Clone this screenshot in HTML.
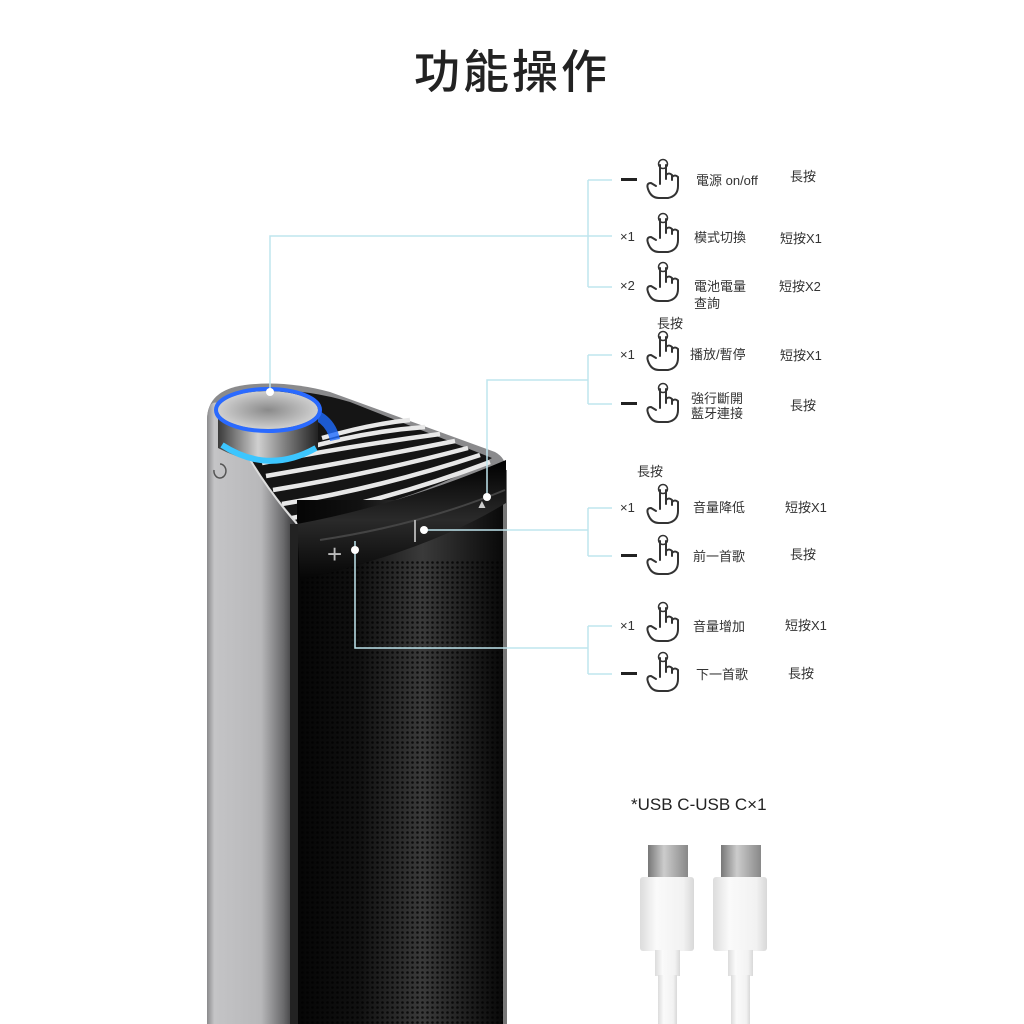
<!DOCTYPE html>
<html><head><meta charset="utf-8"><style>
html,body{margin:0;padding:0;background:#fff;}
svg{display:block}
text{font-family:"Liberation Sans","Noto Sans CJK TC",sans-serif;fill:#333;}
</style></head><body>
<svg width="1024" height="1024" viewBox="0 0 1024 1024" xmlns="http://www.w3.org/2000/svg">
<defs>
<linearGradient id="side" x1="0" x2="1" y1="0" y2="0">
<stop offset="0" stop-color="#8a8a8c"/><stop offset="0.08" stop-color="#c4c4c6"/><stop offset="0.6" stop-color="#b8b8ba"/><stop offset="0.85" stop-color="#6a6a6c"/><stop offset="1" stop-color="#2a2a2c"/></linearGradient>
<linearGradient id="grill" x1="0" x2="1" y1="0" y2="0">
<stop offset="0" stop-color="#050505"/><stop offset="0.3" stop-color="#111"/><stop offset="0.6" stop-color="#3a3a3a"/><stop offset="0.85" stop-color="#1a1a1a"/><stop offset="1" stop-color="#070707"/></linearGradient>
<pattern id="mesh" width="5" height="5" patternUnits="userSpaceOnUse"><circle cx="2.5" cy="2.5" r="1.3" fill="#000" opacity="0.75"/></pattern>
<linearGradient id="knob" x1="0" x2="1"><stop offset="0" stop-color="#3a3a3a"/><stop offset="0.4" stop-color="#d0d0d0"/><stop offset="0.7" stop-color="#777"/><stop offset="1" stop-color="#222"/></linearGradient>
<radialGradient id="ktop"><stop offset="0" stop-color="#8a8a8a"/><stop offset="1" stop-color="#cfcfcf"/></radialGradient>
<linearGradient id="band" x1="0" x2="0" y1="0" y2="1"><stop offset="0" stop-color="#000"/><stop offset="0.5" stop-color="#2a2a2a"/><stop offset="1" stop-color="#050505"/></linearGradient>
<linearGradient id="white" x1="0" x2="1"><stop offset="0" stop-color="#dcdcdc"/><stop offset="0.3" stop-color="#fafafa"/><stop offset="0.8" stop-color="#f2f2f2"/><stop offset="1" stop-color="#d8d8d8"/></linearGradient>
<linearGradient id="metal" x1="0" x2="1"><stop offset="0" stop-color="#777"/><stop offset="0.4" stop-color="#ccc"/><stop offset="1" stop-color="#888"/></linearGradient>
<g id="hand" fill="none" stroke="#333" stroke-width="2" stroke-linecap="round" stroke-linejoin="round">
<circle cx="0" cy="-16" r="4.5" stroke-width="1.5"/>
<path d="M-3,-15 V4 M3,-15 V-1 M3,-5 q3,-3 6,0 V0 M9,-3 q3,-3 6,0 V6 q0,10 -10,12 H-4 q-8,0 -11,-9 q-2,-6 3,-6 l5,3"/>
</g>
</defs>

<text x="512" y="88" text-anchor="middle" font-size="46" font-weight="500" style="fill:#222;letter-spacing:3px">功能操作</text>

<!-- speaker silhouette -->
<path d="M207,1024 V420 Q207,390 245,385 Q285,380 330,392 L495,452 Q506,458 506,470 V1024Z" fill="#8a8a8c"/>
<path d="M222,405 Q235,392 270,390 Q310,390 350,402 L492,458 Q420,500 300,525 Q250,470 222,405Z" fill="#151515"/>
<!-- ribs -->
<g fill="none" stroke="#e8e8e8" stroke-width="4.5">
<path d="M292,518 Q390,500 490,462"/>
<path d="M282,504 Q380,488 480,455"/>
<path d="M273,490 Q370,474 468,448"/>
<path d="M266,476 Q360,460 455,441"/>
<path d="M262,463 Q350,446 440,434"/>
<path d="M300,450 Q360,432 425,427"/>
<path d="M322,438 Q370,424 410,420"/>
</g>
<!-- grille -->
<rect x="297" y="500" width="209" height="524" fill="url(#grill)"/>
<rect x="300" y="560" width="203" height="464" fill="url(#mesh)"/>
<rect x="503" y="470" width="4" height="554" fill="#777"/>
<!-- band -->
<path d="M297,524 Q400,505 506,460 V503 Q430,550 300,580 Z" fill="url(#band)"/>
<path d="M320,540 Q420,525 505,490" fill="none" stroke="#444" stroke-width="2"/>
<!-- silver side -->
<path d="M207,1024 V420 Q208,396 222,405 Q250,470 297,524 V1024Z" fill="url(#side)"/>
<path d="M222,405 Q250,470 297,524" fill="none" stroke="#ddd" stroke-width="2"/>
<rect x="290" y="524" width="8" height="500" fill="#222"/>
<!-- knob -->
<path d="M300,410 Q330,415 335,440" fill="none" stroke="#1e6bff" stroke-width="10" opacity="0.8"/>
<path d="M218,412 L218,448 Q268,475 318,448 L318,412Z" fill="url(#knob)"/>
<path d="M222,445 Q268,475 316,448" fill="none" stroke="#3cc6ff" stroke-width="6"/>
<ellipse cx="268" cy="410" rx="50" ry="19" fill="url(#ktop)"/>
<ellipse cx="268" cy="410" rx="52" ry="21" fill="none" stroke="#2a6aff" stroke-width="4"/>
<!-- panel icons -->
<text x="327" y="563" font-size="26" style="fill:#bbb">+</text>
<rect x="414" y="520" width="2" height="22" fill="#aaa"/>
<text x="476" y="508" font-size="12" style="fill:#ccc">▲</text>
<path d="M214,470 a6,7 0 1 0 6,-6" fill="none" stroke="#555" stroke-width="1.5"/>

<!-- connector lines -->
<g fill="none" stroke="#bfe5ee" stroke-width="1.5">
<path d="M270,390 V236 H588 M588,180 V287 M588,180 H612 M588,236 H612 M588,287 H612"/>
<path d="M487,497 V380 H588 M588,355 V404 M588,355 H612 M588,404 H612"/>
<path d="M424,530 H588 M588,508 V556 M588,508 H612 M588,556 H612"/>
<path d="M355,541 V648 H588 M588,626 V674 M588,626 H612 M588,674 H612"/>
</g>
<g fill="#fff"><circle cx="270" cy="392" r="4"/><circle cx="487" cy="497" r="4"/><circle cx="424" cy="530" r="4"/><circle cx="355" cy="550" r="4"/></g>

<!-- labels -->
<g font-size="13">
<rect x="621" y="178" width="16" height="3" fill="#222"/>
<use href="#hand" x="663" y="180"/><text x="696" y="185">電源 on/off</text><text x="790" y="181">長按</text>
<text x="620" y="241">×1</text><use href="#hand" x="663" y="234"/><text x="694" y="242">模式切換</text><text x="780" y="243">短按X1</text>
<text x="620" y="290">×2</text><use href="#hand" x="663" y="283"/><text x="694" y="291">電池電量</text><text x="694" y="308">查詢</text><text x="779" y="291">短按X2</text>
<text x="657" y="328">長按</text>
<text x="620" y="359">×1</text><use href="#hand" x="663" y="352"/><text x="690" y="359">播放/暫停</text><text x="780" y="360">短按X1</text>
<rect x="621" y="402" width="16" height="3" fill="#222"/><use href="#hand" x="663" y="404"/><text x="691" y="403">強行斷開</text><text x="691" y="418">藍牙連接</text><text x="790" y="410">長按</text>
<text x="637" y="476">長按</text>
<text x="620" y="512">×1</text><use href="#hand" x="663" y="505"/><text x="693" y="512">音量降低</text><text x="785" y="512">短按X1</text>
<rect x="621" y="554" width="16" height="3" fill="#222"/><use href="#hand" x="663" y="556"/><text x="693" y="561">前一首歌</text><text x="790" y="559">長按</text>
<text x="620" y="630">×1</text><use href="#hand" x="663" y="623"/><text x="693" y="631">音量增加</text><text x="785" y="630">短按X1</text>
<rect x="621" y="672" width="16" height="3" fill="#222"/><use href="#hand" x="663" y="673"/><text x="696" y="679">下一首歌</text><text x="788" y="678">長按</text>
</g>

<text x="631" y="810" font-size="17" style="fill:#222">*USB C-USB C×1</text>
<g>
<rect x="648" y="845" width="40" height="34" fill="url(#metal)"/>
<rect x="640" y="877" width="54" height="74" rx="3" fill="url(#white)"/>
<rect x="655" y="950" width="25" height="26" fill="url(#white)"/>
<rect x="658" y="975" width="19" height="49" fill="url(#white)"/>
<rect x="721" y="845" width="40" height="34" fill="url(#metal)"/>
<rect x="713" y="877" width="54" height="74" rx="3" fill="url(#white)"/>
<rect x="728" y="950" width="25" height="26" fill="url(#white)"/>
<rect x="731" y="975" width="19" height="49" fill="url(#white)"/>
</g>
</svg>
</body></html>
